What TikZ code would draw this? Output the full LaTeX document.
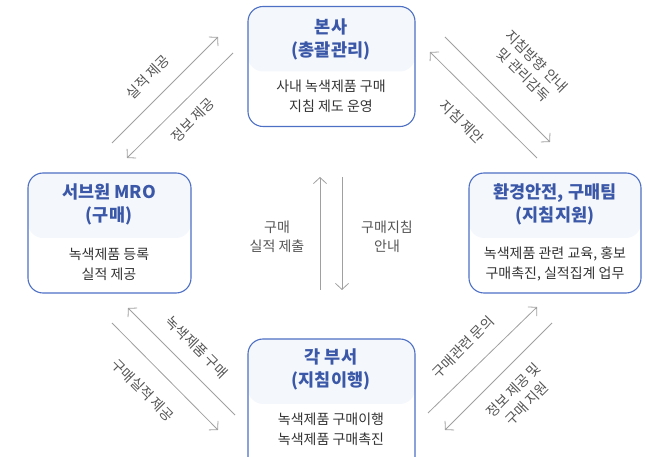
\documentclass[tikz,border=0pt]{standalone}
\usepackage{fontspec}
\setmainfont{Noto Sans CJK KR}
\usetikzlibrary{arrows.meta}

\definecolor{boxline}{HTML}{4D6FC4}
\definecolor{titleblue}{HTML}{3B58A8}
\definecolor{titlebg}{HTML}{F4F7FC}
\definecolor{bodytext}{HTML}{333333}
\definecolor{arrowgray}{HTML}{A0A0A0}
\definecolor{labelgray}{HTML}{555555}

\tikzset{
    unitbox/.style={draw=boxline, line width=1.1pt, rounded corners=15pt,
        minimum height=120pt,
        path picture={\fill[titlebg] (path picture bounding box.north west)
            rectangle ([yshift=-65pt]path picture bounding box.north east);}},
    titletext/.style={font=\bfseries\fontsize{17.5pt}{23pt}\selectfont, text=titleblue, align=center},
    bodytext/.style={font=\fontsize{14pt}{20pt}\selectfont, text=bodytext, align=center},
    flowlabel/.style={font=\fontsize{14pt}{19pt}\selectfont, text=labelgray, align=center},
    flow/.style={draw=arrowgray, line width=0.8pt, -{Straight Barb[length=6pt, width=13pt]}}
}

\begin{document}
\begin{tikzpicture}[x=1pt, y=-1pt]

    \useasboundingbox (0,0) rectangle (649,457);

    % 상자
    \node[unitbox, minimum width=167pt] (hq) at (331.5,66.5) {};
    \node[unitbox, minimum width=163pt] (mro) at (109.5,233) {};
    \node[unitbox, minimum width=172pt] (team) at (555,233) {};
    \node[unitbox, minimum width=167pt, minimum height=140pt] (dept) at (331.5,409) {};

    % 상자 안 글자
    \node[titletext] (hq-title) at (331,39) {본사\\(총괄관리)};
    \node[bodytext] (hq-body) at (331,96) {사내 녹색제품 구매\\지침 제도 운영};

    \node[titletext] (mro-title) at (109,204.5) {서브원 MRO\\(구매)};
    \node[bodytext] (mro-body) at (109,264) {녹색제품 등록\\실적 제공};

    \node[titletext] (team-title) at (555,204.5) {환경안전, 구매팀\\(지침지원)};
    \node[bodytext] (team-body) at (555,264) {녹색제품 관련 교육, 홍보\\구매촉진, 실적집계 업무};

    \node[titletext] (dept-title) at (331,369.5) {각 부서\\(지침이행)};
    \node[bodytext] (dept-body) at (331,429) {녹색제품 구매이행\\녹색제품 구매촉진};

    % 화살표 끝점
    \coordinate (tl-a1) at (112,143);  \coordinate (tl-a2) at (218,37);
    \coordinate (tl-b1) at (233,53);   \coordinate (tl-b2) at (127,158);
    \coordinate (tr-a1) at (445,37);   \coordinate (tr-a2) at (550,142);
    \coordinate (tr-b1) at (537,158);  \coordinate (tr-b2) at (430,52);
    \coordinate (bl-a1) at (235,415);  \coordinate (bl-a2) at (128,308);
    \coordinate (bl-b1) at (112,323);  \coordinate (bl-b2) at (218,430);
    \coordinate (br-a1) at (428,413);  \coordinate (br-a2) at (537,307);
    \coordinate (br-b1) at (552,323);  \coordinate (br-b2) at (445,430);
    \coordinate (v-a1) at (320,290);   \coordinate (v-a2) at (320,177);
    \coordinate (v-b1) at (342,177);   \coordinate (v-b2) at (342,290);

    % 화살표
    \foreach \p in {tl-a,tl-b,tr-a,tr-b,bl-a,bl-b,br-a,br-b,v-a,v-b} {
        \draw[flow] (\p1) -- (\p2);
    }

    % 화살표 글자
    \node[flowlabel, rotate=45] (tl-up) at (148,77) {실적 제공};
    \node[flowlabel, rotate=45] (tl-down) at (193,120) {정보 제공};
    \node[flowlabel, rotate=-45] (tr-down) at (530,68) {지침방향 안내\\및 관리감독};
    \node[flowlabel, rotate=-45] (tr-up) at (462,122) {지침 제안};
    \node[flowlabel, rotate=-45] (bl-up) at (197,347) {녹색제품 구매};
    \node[flowlabel, rotate=-45] (bl-down) at (143,390) {구매실적 제공};
    \node[flowlabel, rotate=45] (br-up) at (463,347) {구매관련 문의};
    \node[flowlabel, rotate=45] (br-down) at (520,397) {정보 제공 및\\구매 지원};
    \node[flowlabel] (v-up) at (277,237) {구매\\실적 제출};
    \node[flowlabel] (v-down) at (387,237) {구매지침\\안내};

\end{tikzpicture}
\end{document}
